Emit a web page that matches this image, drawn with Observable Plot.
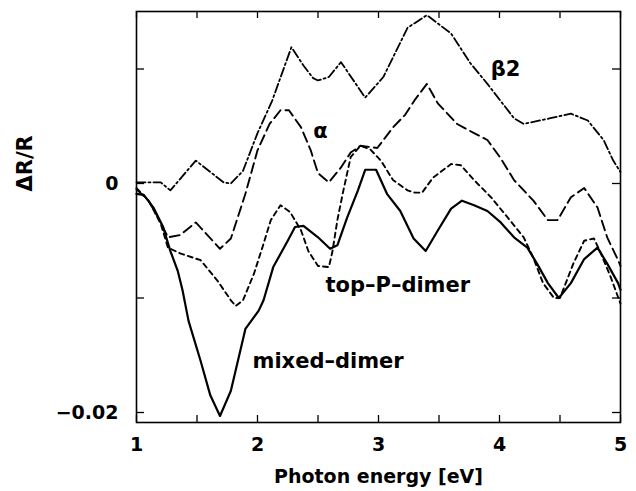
<!DOCTYPE html>
<html><head><meta charset="utf-8">
<script src="https://cdn.jsdelivr.net/npm/d3@7"></script>
<script src="https://cdn.jsdelivr.net/npm/@observablehq/plot@0.6"></script>
<style>html,body{margin:0;padding:0;background:#fff} svg{display:block}</style>
</head><body><div id="chart"></div>
<script>
// Photon energy (eV) and ΔR/R values
const mixedE = [1.00,1.06,1.14,1.22,1.28,1.34,1.38,1.43,1.53,1.61,1.69,1.78,1.90,2.01,2.05,2.13,2.25,2.31,2.38,2.50,2.60,2.66,2.74,2.83,2.89,2.98,3.07,3.18,3.29,3.39,3.49,3.60,3.69,3.79,3.90,4.01,4.12,4.23,4.31,4.40,4.49,4.59,4.70,4.81,4.89,4.98,5.00];
const mixedR = [-0.0009,-0.0010,-0.0021,-0.0038,-0.0059,-0.0076,-0.0093,-0.0120,-0.0155,-0.0185,-0.0203,-0.0181,-0.0127,-0.0111,-0.0102,-0.0073,-0.0050,-0.0038,-0.0037,-0.0047,-0.0057,-0.0054,-0.0030,-0.0006,0.0012,0.0012,-0.0009,-0.0024,-0.0048,-0.0059,-0.0041,-0.0022,-0.0015,-0.0019,-0.0024,-0.0034,-0.0047,-0.0056,-0.0070,-0.0087,-0.0100,-0.0087,-0.0066,-0.0056,-0.0070,-0.0087,-0.0093];

const topPE = [1.00,1.10,1.20,1.26,1.36,1.53,1.67,1.78,1.82,1.88,1.97,2.04,2.11,2.19,2.27,2.36,2.42,2.50,2.59,2.62,2.66,2.71,2.77,2.85,2.93,3.02,3.12,3.24,3.30,3.36,3.45,3.60,3.68,3.79,3.93,4.07,4.20,4.28,4.36,4.45,4.50,4.61,4.70,4.78,4.83,4.92,5.00];
const topPR = [-0.0004,-0.0015,-0.0035,-0.0056,-0.0061,-0.0067,-0.0085,-0.0102,-0.0107,-0.0102,-0.0079,-0.0056,-0.0032,-0.0019,-0.0025,-0.0041,-0.0059,-0.0072,-0.0073,-0.0059,-0.0032,-0.0006,0.0023,0.0033,0.0030,0.0020,0.0003,-0.0006,-0.0008,-0.0008,0.0005,0.0017,0.0016,0.0003,-0.0012,-0.0030,-0.0047,-0.0065,-0.0087,-0.0100,-0.0100,-0.0070,-0.0050,-0.0048,-0.0059,-0.0082,-0.0105];

const alphaE = [1.00,1.10,1.18,1.26,1.36,1.49,1.69,1.78,1.90,2.00,2.10,2.19,2.26,2.36,2.44,2.50,2.59,2.69,2.77,2.85,2.99,3.12,3.22,3.30,3.40,3.49,3.65,3.79,3.90,4.01,4.12,4.28,4.40,4.48,4.59,4.70,4.81,4.89,4.98,5.00];
const alphaR = [-0.0005,-0.0015,-0.0030,-0.0047,-0.0045,-0.0034,-0.0057,-0.0048,-0.0009,0.0029,0.0052,0.0064,0.0064,0.0049,0.0029,0.0009,0.0001,0.0014,0.0027,0.0033,0.0031,0.0049,0.0060,0.0073,0.0087,0.0070,0.0052,0.0044,0.0038,0.0022,0.0003,-0.0015,-0.0032,-0.0032,-0.0012,-0.0004,-0.0021,-0.0047,-0.0067,-0.0072];

const beta2E = [1.00,1.20,1.28,1.49,1.72,1.78,1.88,2.00,2.12,2.28,2.38,2.46,2.50,2.59,2.69,2.89,3.04,3.24,3.40,3.60,3.76,3.90,4.01,4.12,4.20,4.42,4.59,4.73,4.86,4.94,5.00];
const beta2R = [0.0001,0.0001,-0.0006,0.0020,0.0001,0.0000,0.0011,0.0044,0.0072,0.0119,0.0103,0.0092,0.0090,0.0093,0.0106,0.0075,0.0093,0.0136,0.0147,0.0131,0.0105,0.0087,0.0072,0.0057,0.0052,0.0057,0.0061,0.0055,0.0038,0.0020,0.0010];

const xTicks = [1,1.5,2,2.5,3,3.5,4,4.5,5];
const xTickLabels = [1,2,3,4,5];
const yTicks = [-0.02,-0.01,0,0.01];
const yTickLabels = [0,-0.02];

const curveLabels = [
  {x: 4.05, y: 0.0100, text: "β2", anchor: "middle"},
  {x: 2.52, y: 0.0046, text: "α", anchor: "middle"},
  {x: 2.562, y: -0.0089, text: "top–P–dimer", anchor: "start"},
  {x: 1.959, y: -0.0155, text: "mixed–dimer", anchor: "start"}
];
const yLabelPos = [{y: -0.0007, text: "ΔR/R"}];

const rows = (xs, ys) => xs.map((x, i) => ({x, y: ys[i]}));

const W = 636, H = 491, mL = 136, mR = 16, mT = 11, mB = 69;
const plotW = W - mL - mR, plotH = H - mT - mB;

const chart = Plot.plot({
  width: W, height: H,
  marginLeft: mL, marginRight: mR, marginTop: mT, marginBottom: mB,
  style: {fontFamily: "'DejaVu Sans', sans-serif", fontSize: "19px", fontWeight: "bold", color: "black", background: "white"},
  x: {domain: [1, 5], ticks: xTickLabels, tickSize: 0, tickPadding: 15, label: null, tickFormat: d => String(d)},
  y: {domain: [-0.020873, 0.015022], ticks: yTickLabels, tickSize: 0, tickPadding: 18, label: null,
      tickFormat: d => d === 0 ? "0" : "−" + Math.abs(d).toFixed(2)},
  marks: [
    Plot.ruleX(xTicks, {insetTop: plotH - 7, stroke: "black", strokeWidth: 1.3}),
    Plot.ruleX(xTicks, {insetBottom: plotH - 7, stroke: "black", strokeWidth: 1.3}),
    Plot.ruleY(yTicks, {insetRight: plotW - 8, stroke: "black", strokeWidth: 1.3}),
    Plot.ruleY(yTicks, {insetLeft: plotW - 8, stroke: "black", strokeWidth: 1.3}),
    Plot.line(rows(beta2E, beta2R), {x: "x", y: "y", stroke: "black", strokeWidth: 1.8, strokeDasharray: "9,3,2,3"}),
    Plot.line(rows(alphaE, alphaR), {x: "x", y: "y", stroke: "black", strokeWidth: 1.9, strokeDasharray: "10,5"}),
    Plot.line(rows(topPE, topPR), {x: "x", y: "y", stroke: "black", strokeWidth: 1.9, strokeDasharray: "5,4"}),
    Plot.line(rows(mixedE, mixedR), {x: "x", y: "y", stroke: "black", strokeWidth: 2.2}),
    Plot.frame({stroke: "black", strokeWidth: 1.6}),
    Plot.text(curveLabels.filter(d => d.anchor === "middle"), {x: "x", y: "y", text: "text", fontSize: 21, fill: "black", textAnchor: "middle"}),
    Plot.text(curveLabels.filter(d => d.anchor === "start"), {x: "x", y: "y", text: "text", fontSize: 21, fill: "black", textAnchor: "start"}),
    Plot.text(["Photon energy [eV]"], {frameAnchor: "bottom", dy: 60, fontSize: 19, fill: "black"}),
    Plot.text(yLabelPos, {frameAnchor: "left", y: "y", text: "text", dx: -111, rotate: -90, fontSize: 21, fill: "black"})
  ]
});
document.getElementById("chart").appendChild(chart);
</script>
</body></html>
